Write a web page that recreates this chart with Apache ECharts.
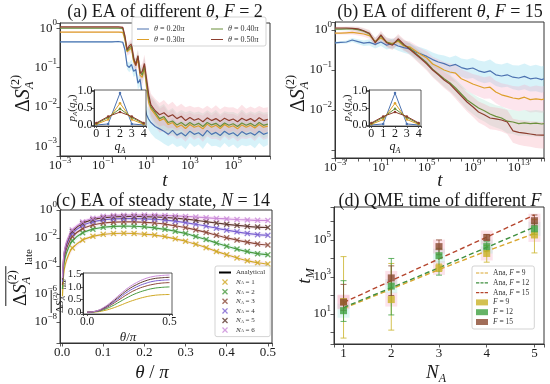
<!DOCTYPE html>
<html>
<head>
<meta charset="utf-8">
<script src="https://cdn.jsdelivr.net/npm/echarts@6.0.0/dist/echarts.min.js"></script>
<style>html,body{margin:0;padding:0;background:#fff;}#chart{width:550px;height:384px;}</style>
</head>
<body>
<div id="chart"></div>
<script>
const F = "'Liberation Serif','DejaVu Serif',serif";
const INK = '#1a1a1a';

// ===== (a) EA of different theta, F = 2  (x = log10 t, y = log10 dS) =====
const A_X = [-3,-2.5,-2,-1.5,-1,-0.6,-0.3,-0.1,0,0.1,0.2,0.3,0.4,0.5,0.6,0.7,0.8,0.9,1.0,1.1,1.2,1.4,1.6,1.8,2.0,2.2,2.4,2.6,2.8,3.0,3.2,3.4,3.6,3.8,4.0,4.2,4.4,4.6,4.8,5.0,5.2,5.4,5.6,5.8,6.0,6.2,6.4,6.6];
const A_020 = [-0.35,-0.35,-0.35,-0.35,-0.35,-0.35,-0.34,-0.36,-0.55,-0.95,-1.0,-0.92,-1.1,-1.05,-1.4,-1.3,-1.7,-1.95,-2.2,-2.32,-2.4,-2.5,-2.56,-2.62,-2.7,-2.6,-2.72,-2.66,-2.74,-2.62,-2.7,-2.66,-2.74,-2.6,-2.7,-2.65,-2.73,-2.62,-2.7,-2.66,-2.74,-2.63,-2.7,-2.66,-2.72,-2.62,-2.7,-2.66];
const A_030 = [-0.1,-0.1,-0.1,-0.1,-0.1,-0.1,-0.1,-0.11,-0.3,-0.6,-0.55,-0.5,-0.85,-0.95,-0.8,-1.2,-1.25,-1.0,-1.5,-1.9,-2.05,-2.2,-2.35,-2.3,-2.45,-2.4,-2.52,-2.46,-2.55,-2.45,-2.52,-2.48,-2.56,-2.44,-2.52,-2.47,-2.55,-2.45,-2.52,-2.48,-2.56,-2.46,-2.52,-2.47,-2.54,-2.45,-2.52,-2.49];
const A_040 = [0,0,0,0,0,0,0,-0.01,-0.25,-0.58,-0.5,-0.45,-0.8,-0.9,-0.72,-1.1,-1.2,-0.95,-1.4,-1.8,-2.0,-2.15,-2.3,-2.25,-2.4,-2.36,-2.46,-2.4,-2.48,-2.4,-2.47,-2.42,-2.5,-2.4,-2.46,-2.42,-2.5,-2.41,-2.47,-2.43,-2.5,-2.41,-2.47,-2.42,-2.49,-2.4,-2.47,-2.44];
const A_050 = [0.03,0.03,0.03,0.03,0.03,0.03,0.03,0.02,-0.2,-0.55,-0.45,-0.4,-0.75,-0.95,-0.7,-1.15,-1.1,-0.9,-1.3,-1.7,-1.95,-2.1,-2.2,-2.15,-2.25,-2.2,-2.3,-2.24,-2.35,-2.27,-2.34,-2.3,-2.38,-2.28,-2.35,-2.3,-2.37,-2.29,-2.35,-2.31,-2.38,-2.29,-2.35,-2.3,-2.37,-2.28,-2.35,-2.32];
const A_SPR = [0.02,0.02,0.02,0.02,0.02,0.02,0.02,0.03,0.08,0.1,0.12,0.12,0.14,0.15,0.16,0.18,0.2,0.22,0.24,0.26,0.28,0.3,0.3,0.32,0.3,0.33,0.3,0.32,0.34,0.3,0.32,0.3,0.33,0.31,0.3,0.34,0.31,0.3,0.33,0.3,0.32,0.34,0.3,0.31,0.33,0.3,0.32,0.31];

// ===== (b) EA of different theta, F = 15 =====
const B_X = [-3,-2.5,-2,-1.5,-1,-0.5,0,0.5,1,1.5,2,2.5,3,3.5,4,4.5,5,5.5,6,6.5,7,7.5,8,8.5,9,9.5,10,10.5,11,11.5,12,12.5,13,13.5,14,14.5,15,15.2];
const B_020 = [-0.32,-0.31,-0.3,-0.25,-0.29,-0.33,-0.31,-0.36,-0.3,-0.38,-0.33,-0.4,-0.44,-0.47,-0.55,-0.6,-0.66,-0.74,-0.8,-0.84,-0.9,-0.86,-0.94,-0.98,-0.95,-1.02,-1.06,-1.02,-1.12,-1.15,-1.12,-1.18,-1.2,-1.16,-1.22,-1.2,-1.24,-1.22];
const B_030 = [-0.08,-0.08,-0.07,-0.06,-0.08,-0.1,-0.14,-0.28,-0.2,-0.3,-0.34,-0.28,-0.4,-0.42,-0.52,-0.62,-0.7,-0.85,-0.92,-1.0,-1.05,-1.08,-1.22,-1.28,-1.35,-1.4,-1.45,-1.43,-1.55,-1.62,-1.66,-1.7,-1.72,-1.68,-1.74,-1.72,-1.74,-1.73];
const B_040 = [0.02,0.02,0.03,0.03,0.01,-0.03,-0.1,-0.3,-0.15,-0.3,-0.36,-0.25,-0.38,-0.45,-0.58,-0.7,-0.82,-0.98,-1.1,-1.22,-1.32,-1.45,-1.6,-1.75,-1.85,-1.95,-2.02,-2.1,-2.16,-2.2,-2.28,-2.3,-2.34,-2.32,-2.34,-2.33,-2.35,-2.34];
const B_050 = [0.05,0.05,0.05,0.04,0.03,-0.02,-0.08,-0.32,-0.12,-0.32,-0.38,-0.22,-0.36,-0.48,-0.6,-0.72,-0.85,-1.0,-1.12,-1.25,-1.35,-1.5,-1.65,-1.8,-1.92,-2.05,-2.12,-2.2,-2.22,-2.25,-2.3,-2.52,-2.56,-2.58,-2.6,-2.62,-2.63,-2.63];
const B_SPR = [0.03,0.03,0.04,0.05,0.06,0.07,0.08,0.1,0.1,0.11,0.12,0.12,0.13,0.14,0.15,0.16,0.17,0.18,0.19,0.2,0.21,0.22,0.23,0.24,0.25,0.26,0.27,0.28,0.28,0.29,0.3,0.3,0.31,0.32,0.32,0.33,0.33,0.33];

// ===== insets of (a),(b): p_A(q_A) =====
const P_Q = [0,1,2,3,4];
const P_020 = [0.0,0.03,0.94,0.03,0.0];
const P_030 = [0.02,0.16,0.64,0.16,0.02];
const P_040 = [0.04,0.22,0.48,0.22,0.04];
const P_050 = [0.06,0.25,0.38,0.25,0.06];

// ===== (c) EA of steady state, N = 14 (x = theta/pi, y = log10) =====
const C_T = [0.001,0.004,0.008,0.015,0.025,0.05,0.075,0.1,0.125,0.15,0.175,0.2,0.225,0.25,0.275,0.3,0.325,0.35,0.375,0.4,0.425,0.45,0.475,0.5];
const C_NA1 = [-6.16,-4.56,-3.86,-3.26,-2.71,-2.14,-1.88,-1.74,-1.68,-1.66,-1.68,-1.73,-1.79,-1.9,-2.06,-2.23,-2.45,-2.69,-2.96,-3.2,-3.42,-3.62,-3.77,-3.86];
const C_NA2 = [-5.65,-4.05,-3.35,-2.75,-2.2,-1.63,-1.37,-1.23,-1.17,-1.15,-1.16,-1.2,-1.27,-1.38,-1.52,-1.68,-1.89,-2.11,-2.36,-2.59,-2.79,-2.97,-3.12,-3.2];
const C_NA3 = [-5.35,-3.75,-3.05,-2.45,-1.9,-1.33,-1.07,-0.93,-0.87,-0.85,-0.85,-0.88,-0.93,-1.01,-1.13,-1.26,-1.42,-1.6,-1.8,-1.99,-2.15,-2.3,-2.43,-2.5];
const C_NA4 = [-5.12,-3.52,-2.82,-2.22,-1.67,-1.1,-0.84,-0.7,-0.64,-0.62,-0.62,-0.63,-0.66,-0.72,-0.8,-0.9,-1.02,-1.15,-1.3,-1.44,-1.56,-1.67,-1.76,-1.8];
const C_NA5 = [-4.97,-3.37,-2.67,-2.07,-1.52,-0.95,-0.69,-0.55,-0.49,-0.47,-0.46,-0.47,-0.49,-0.53,-0.58,-0.65,-0.74,-0.83,-0.93,-1.02,-1.1,-1.17,-1.22,-1.25];
const C_NA6 = [-4.87,-3.27,-2.57,-1.97,-1.42,-0.85,-0.59,-0.45,-0.39,-0.37,-0.36,-0.36,-0.37,-0.39,-0.42,-0.46,-0.5,-0.55,-0.6,-0.64,-0.68,-0.71,-0.74,-0.75];
const C_SPR = [0.3,0.3,0.3,0.25,0.2,0.15,0.12,0.12,0.12,0.12,0.12,0.12,0.12,0.12,0.12,0.13,0.13,0.14,0.14,0.15,0.15,0.15,0.15,0.15];
const CI_T = [0,0.05,0.1,0.15,0.2,0.25,0.3,0.35,0.4,0.45,0.5];
const CI_1 = [0,0.01,0.06,0.15,0.27,0.4,0.51,0.6,0.66,0.69,0.7];
const CI_2 = [0,0.02,0.1,0.24,0.42,0.6,0.75,0.86,0.94,0.98,1.0];
const CI_3 = [0,0.03,0.13,0.31,0.52,0.73,0.9,1.02,1.1,1.15,1.17];
const CI_4 = [0,0.03,0.15,0.35,0.59,0.82,1.0,1.13,1.22,1.26,1.28];
const CI_5 = [0,0.04,0.17,0.39,0.65,0.9,1.09,1.23,1.32,1.36,1.38];
const CI_6 = [0,0.04,0.19,0.43,0.71,0.97,1.17,1.32,1.41,1.45,1.47];

// ===== (d) QME time of different F (y = log10 t_M) =====
const D_NA = [1,2,3,4,5];
const D_ANA9 = [1.3,2.35,3.4,4.4,5.35];
const D_ANA12 = [1.35,2.42,3.5,4.6,5.7];
const D_ANA15 = [1.62,2.8,3.98,5.15,6.35];
const D_F9 = [1.67,1.78,3.49,4.27,5.27];
const D_F12 = [1.18,2.51,4.15,4.64,5.6];
const D_F15 = [1.64,2.95,4.64,5.13,6.04];
const D_F9_LO = [-0.3,0.13,3.3,3.8,4.3];
const D_F9_HI = [4.1,3.73,3.7,4.7,6.1];
const D_F12_LO = [0.6,0.95,3.1,4.4,5.3];
const D_F12_HI = [2.8,4.0,4.55,4.9,5.9];
const D_F15_LO = [1.2,2.0,4.2,5.0,5.8];
const D_F15_HI = [2.6,3.6,5.0,5.3,6.35];

// ===== tick labels =====
const A_XTICKS = [-3,-1,1,3,5];
const A_YTICKS = [-3,-2,-1,0];
const B_XTICKS = [-3,1,5,9,13];
const B_YTICKS = [-2,-1,0];
const C_XTICKS = [0,0.1,0.2,0.3,0.4,0.5];
const C_YTICKS = [-8,-6,-4,-2,0];
const D_XTICKS = [1,2,3,4,5];
const D_YTICKS = [1,3,5];
const P_XTICKS = [0,1,2,3,4];
const P_YTICKS = [0,0.5,1];
const CI_XTICKS = [0,0.5];
const CI_YTICKS = [0,0.5,1,1.5];

// ===== names =====
const THETAS = ['0.20','0.30','0.40','0.50'];
const NAS = [1,2,3,4,5,6];
const FS = [9,12,15];
const TH_NAMES = THETAS.map(t => 'θ = ' + t + 'π');
const NA_NAMES = NAS.map(n => 'N_A = ' + n);
const ANA_NAMES = FS.map(f => 'Ana, F = ' + f);
const F_NAMES = FS.map(f => 'F = ' + f);
const RN = {'Analytical': '{n|Analytical}'};
TH_NAMES.forEach((nm,k) => RN[nm] = '{i|θ}{n| = ' + THETAS[k] + '}{i|π}');
NA_NAMES.forEach((nm,k) => RN[nm] = '{i|N}{s|A}{n| = ' + NAS[k] + '}');
ANA_NAMES.forEach((nm,k) => RN[nm] = '{n|Ana, }{i|F}{n| = ' + FS[k] + '}');
F_NAMES.forEach((nm,k) => RN[nm] = '{i|F}{n| = ' + FS[k] + '}');

// ===== styles =====
const TH_COL = ['#4c72b0','#dd9f2a','#6a8f3a','#8c3d2e'];
const TH_BAND = ['#6fd0e8','#f7a0c0','#9ee0c8','#f59aa8'];
const C_COL = ['#cfa823','#4a9a40','#8b4a3a','#7a60d0','#5e3a30','#c98ad8'];
const C_BAND = ['#f3c8e0','#a8e8d8','#f3c8d8','#d8c8f0','#f0c8d8','#f3c0f0'];
const D_ACOL = ['#d9a62e','#3f8f3f','#b5462e'];
const D_PCOL = ['#c9b227','#3fa040','#8a4a30'];
const D_HALO = ['#f6b0c8','#a8e8e0','#f6a8c0'];
const XPATH = 'path://M0,1.6L1.6,0L5,3.4L8.4,0L10,1.6L6.6,5L10,8.4L8.4,10L5,6.6L1.6,10L0,8.4L3.4,5Z';
const LINE_ICON = 'path://M0,0H0.01V0.01H0ZM0,4H20V6H0ZM19.99,9.99H20V10H19.99Z';
const THICK_ICON = 'path://M0,0H0.01V0.01H0ZM0,3.3H20V6.7H0ZM19.99,9.99H20V10H19.99Z';
const DASH_ICON = 'path://M0,0H0.01V0.01H0ZM0,4H5.5V6H0ZM7.5,4H12.5V6H7.5ZM14.5,4H20V6H14.5ZM19.99,9.99H20V10H19.99Z';

const zip = (X, Y) => X.map((x, i) => [x, Y[i]]);
const near = (v, list) => { const r = Math.round(v * 1000) / 1000; return list.some(t => Math.abs(t - r) < 1e-9) ? r : null; };
const logFmt = ticks => v => { const r = near(v, ticks); if (r === null) return ''; const e = Math.round(r); return '{b|10}{s|' + (e < 0 ? '\u2212' + (-e) : e) + '}'; };
const numFmt = (ticks, d) => v => { const r = near(v, ticks); return r === null ? '' : (Math.abs(r) < 1e-9 ? 0 : r).toFixed(d); };
const LOGRICH = fs => ({b:{fontFamily:F,fontSize:fs,color:INK,lineHeight:fs+7}, s:{fontFamily:F,fontSize:Math.round(fs*0.68),color:INK,verticalAlign:'top',lineHeight:Math.round(fs*0.7)}});

function axis(gi, min, max, step, fmt, o) {
  o = o || {};
  const fs = o.fs || 13;
  return {
    type:'value', gridIndex:gi, min:min, max:max, minInterval:step, maxInterval:step, z:o.z || 0,
    axisLine:{show:true, onZero:false, lineStyle:{color:'#333', width:1}},
    axisTick:{show:true, length:o.tl || 3.5, lineStyle:{color:'#333', width:0.8}},
    splitLine:{show:false},
    axisLabel:{formatter:fmt, fontFamily:F, fontSize:fs, color:INK, margin:(o.m == null ? 3 : o.m), rich:LOGRICH(fs), hideOverlap:false}
  };
}
function band(gi, X, Y, S, color, op, z) {
  return {type:'custom', xAxisIndex:gi, yAxisIndex:gi, silent:true, z:z || 1, clip:true,
    data:X.map((x, i) => [x, Y[i] - S[i], Y[i] + S[i]]), encode:{x:0, y:[1,2]},
    renderItem:(p, api) => {
      if (p.dataIndex !== 0) return null;
      const up = X.map((x, i) => api.coord([x, Y[i] + S[i]]));
      const dn = X.map((x, i) => api.coord([x, Y[i] - S[i]])).reverse();
      return {type:'polygon', shape:{points:up.concat(dn)}, style:{fill:color, opacity:op}};
    }};
}
function errBars(gi, X, LO, HI, color) {
  return {type:'custom', xAxisIndex:gi, yAxisIndex:gi, silent:true, z:3, clip:true,
    data:X.map((x, i) => [x, LO[i], HI[i]]), encode:{x:0, y:[1,2]},
    renderItem:(p, api) => {
      const a = api.coord([api.value(0), api.value(1)]), b = api.coord([api.value(0), api.value(2)]);
      const w = 3, st = {stroke:color, lineWidth:0.8};
      return {type:'group', children:[
        {type:'line', shape:{x1:a[0], y1:a[1], x2:b[0], y2:b[1]}, style:st},
        {type:'line', shape:{x1:a[0]-w, y1:a[1], x2:a[0]+w, y2:a[1]}, style:st},
        {type:'line', shape:{x1:b[0]-w, y1:b[1], x2:b[0]+w, y2:b[1]}, style:st}]};
    }};
}
const line = (gi, name, data, color, o) => Object.assign({type:'line', name:name, xAxisIndex:gi, yAxisIndex:gi, data:data, symbol:'none', showSymbol:false,
  lineStyle:{color:color, width:1.2}, itemStyle:{color:color}, z:2, animation:false}, o || {});

// ===== series =====
const series = [];
const A_SER = [A_020, A_030, A_040, A_050];
const B_SER = [B_020, B_030, B_040, B_050];
const P_SER = [P_020, P_030, P_040, P_050];
for (let k = 0; k < 4; k++) {
  series.push(band(0, A_X, A_SER[k], A_SPR, TH_BAND[k], 0.28));
  series.push(band(1, B_X, B_SER[k], B_SPR, TH_BAND[k], 0.28));
}
for (let k = 0; k < 4; k++) {
  series.push(line(0, TH_NAMES[k], zip(A_X, A_SER[k]), TH_COL[k]));
  series.push(line(1, 'b' + k, zip(B_X, B_SER[k]), TH_COL[k]));
  series.push(line(4, 'pa' + k, zip(P_Q, P_SER[k]), TH_COL[k], {symbol:'circle', showSymbol:true, symbolSize:2.5, lineStyle:{color:TH_COL[k], width:1}, z:7}));
  series.push(line(5, 'pb' + k, zip(P_Q, P_SER[k]), TH_COL[k], {symbol:'circle', showSymbol:true, symbolSize:2.5, lineStyle:{color:TH_COL[k], width:1}, z:7}));
}
const C_SER = [C_NA1, C_NA2, C_NA3, C_NA4, C_NA5, C_NA6];
const CI_SER = [CI_1, CI_2, CI_3, CI_4, CI_5, CI_6];
for (let k = 0; k < 6; k++) series.push(band(2, C_T, C_SER[k], C_SPR, C_BAND[k], 0.35));
series.push(line(2, 'Analytical', [], '#000', {lineStyle:{color:'#000', width:1.5}}));
for (let k = 0; k < 6; k++) {
  series.push(line(2, 'c' + k, zip(C_T, C_SER[k]), C_COL[k], {smooth:0.3}));
  series.push({type:'scatter', name:NA_NAMES[k], xAxisIndex:2, yAxisIndex:2, data:zip(C_T.slice(4), C_SER[k].slice(4)),
    symbol:XPATH, symbolSize:6, itemStyle:{color:C_COL[k]}, z:3, animation:false});
  series.push(line(6, 'ci' + k, zip(CI_T, CI_SER[k]), C_COL[k], {smooth:true, lineStyle:{color:C_COL[k], width:1}, z:7}));
}
const D_ANA = [D_ANA9, D_ANA12, D_ANA15];
const D_PT = [D_F9, D_F12, D_F15];
const D_LO = [D_F9_LO, D_F12_LO, D_F15_LO];
const D_HI = [D_F9_HI, D_F12_HI, D_F15_HI];
for (let k = 0; k < 3; k++) {
  series.push({type:'scatter', name:'halo' + k, xAxisIndex:3, yAxisIndex:3, data:zip(D_NA, D_PT[k]), symbol:'rect', symbolSize:[12, 14],
    itemStyle:{color:D_HALO[k], opacity:0.35}, z:1, silent:true, animation:false});
}
for (let k = 0; k < 3; k++) {
  series.push(line(3, ANA_NAMES[k], zip(D_NA, D_ANA[k]), D_ACOL[k], {lineStyle:{color:D_ACOL[k], width:1.4, type:[5,3]}}));
  series.push(errBars(3, D_NA, D_LO[k], D_HI[k], D_PCOL[k]));
  series.push({type:'scatter', name:F_NAMES[k], xAxisIndex:3, yAxisIndex:3, data:zip(D_NA, D_PT[k]), symbol:'rect', symbolSize:7,
    itemStyle:{color:D_PCOL[k]}, z:4, animation:false});
}

// ===== graphic text =====
const rt = size => ({n:{fontFamily:F, fontSize:size, fill:INK, lineHeight:size*1.25},
  i:{fontFamily:F, fontSize:size, fontStyle:'italic', fill:INK, lineHeight:size*1.25},
  s:{fontFamily:F, fontSize:Math.round(size*0.65), fontStyle:'italic', fill:INK, verticalAlign:'bottom', lineHeight:Math.round(size*0.65)}});
function T(x, y, text, size, o) {
  o = o || {};
  const al = o.align || 'center';
  return {type:'text', x:x, y:y, rotation:o.rot || 0, z:20, silent:true,
    style:{text:text, rich:rt(size), fontFamily:F, fontSize:size, fill:INK, align:al, verticalAlign:'middle', textAlign:al, textVerticalAlign:'middle'}};
}
function DS(x, y, size, late) {
  const s2 = Math.round(size * 0.62);
  const w = size * 1.15;
  const st = (t, fs, it) => ({text:t, fontFamily:F, fontSize:fs, fontStyle:it ? 'italic' : 'normal', fill:INK, align:'left', verticalAlign:'middle', textAlign:'left', textVerticalAlign:'middle'});
  const ch = [
    {type:'text', x:0, y:0, style:{text:'{n|Δ}{i|S}', rich:rt(size), align:'left', verticalAlign:'middle', textAlign:'left', textVerticalAlign:'middle'}},
    {type:'text', x:w, y:-size*0.42, style:st('(2)', s2, false)},
    {type:'text', x:w, y:size*0.3, style:st('A', s2, true)}
  ];
  if (late) {
    ch.push({type:'line', shape:{x1:0, y1:-size*0.8, x2:w + s2*1.5, y2:-size*0.8}, style:{stroke:INK, lineWidth:1}});
    ch.push({type:'text', x:w + s2*1.6, y:size*0.42, style:st('late', Math.round(s2*0.95), false)});
  }
  return {type:'group', x:x, y:y, rotation:Math.PI/2, z:20, silent:true, children:ch};
}
const ROT = Math.PI / 2;
const graphics = [
  {type:'rect', shape:{x:132, y:17, width:134, height:29, r:2}, style:{fill:'#fff', stroke:'#c8c8c8', lineWidth:0.8}, z:11, silent:true},
  T(165, 12, '{n|(a) EA of different }{i|θ}{n|, }{i|F}{n| = 2}', 18),
  T(440, 12, '{n|(b) EA of different }{i|θ}{n|, }{i|F}{n| = 15}', 18),
  T(163, 201, '{n|(c) EA of steady state, }{i|N}{n| = 14}', 18),
  T(440, 201, '{n|(d) QME time of different }{i|F}', 18),
  T(165, 181, '{i|t}', 19),
  T(440, 181, '{i|t}', 19),
  T(152, 373, '{i|θ}{n| / }{i|π}', 19),
  T(436, 373, '{i|N}{s|A}', 19),
  T(305, 276, '{i|t}{s|M}', 19, {rot:ROT}),
  DS(24, 112, 20, false),
  DS(299, 112, 20, false),
  DS(21, 306, 19, true),
  DS(60, 313, 11, true),
  T(120, 147, '{i|q}{s|A}', 12),
  T(395, 147, '{i|q}{s|A}', 12),
  T(72, 108, '{i|p}{s|A}{n|(}{i|q}{s|A}{n|)}', 11, {rot:ROT}),
  T(347, 108, '{i|p}{s|A}{n|(}{i|q}{s|A}{n|)}', 11, {rot:ROT}),
  T(128, 338, '{i|θ}{n|/}{i|π}', 13)
];

const legRich = fs => ({n:{fontFamily:F, fontSize:fs, color:'#333'}, i:{fontFamily:F, fontSize:fs, fontStyle:'italic', color:'#333'},
  s:{fontFamily:F, fontSize:Math.round(fs*0.7), fontStyle:'italic', color:'#333', verticalAlign:'bottom'}});
const legBase = (data, left, top, fs, gap, box) => Object.assign({data:data, left:left, top:top, orient:'vertical', itemGap:gap, itemWidth:12, itemHeight:6,
  formatter:n => RN[n], textStyle:{fontFamily:F, fontSize:fs, color:'#333', rich:legRich(fs)}, z:12, selectedMode:false, padding:3},
  box ? {backgroundColor:'#fff', borderColor:'#c8c8c8', borderWidth:0.8, borderRadius:2, padding:[3,5,3,4]} : {});
const withIcon = (names, icon) => names.map(n => ({name:n, icon:icon}));

const option = {
  animation:false,
  backgroundColor:'#fff',
  textStyle:{fontFamily:F},
  grid:[
    {left:60, top:23, width:210, height:133, show:true, borderColor:'#333', borderWidth:1, backgroundColor:'transparent'},
    {left:335, top:22, width:209, height:136, show:true, borderColor:'#333', borderWidth:1, backgroundColor:'transparent'},
    {left:60, top:210, width:212, height:133, show:true, borderColor:'#333', borderWidth:1, backgroundColor:'transparent'},
    {left:334, top:207, width:210, height:137, show:true, borderColor:'#333', borderWidth:1, backgroundColor:'transparent'},
    {left:94, top:90, width:52, height:36, show:true, borderColor:'#333', borderWidth:0.8, backgroundColor:'#fff', z:5},
    {left:369, top:90, width:52, height:36, show:true, borderColor:'#333', borderWidth:0.8, backgroundColor:'#fff', z:5},
    {left:83, top:273, width:89, height:41, show:true, borderColor:'#333', borderWidth:0.8, backgroundColor:'#fff', z:5}
  ],
  xAxis:[
    axis(0, -3, 6.7, 1, logFmt(A_XTICKS), {m:0}),
    axis(1, -3, 15.2, 1, logFmt(B_XTICKS), {m:0}),
    axis(2, -0.005, 0.51, 0.1, numFmt(C_XTICKS, 1), {m:3}),
    axis(3, 0.8, 5.2, 1, numFmt(D_XTICKS, 0), {m:3}),
    axis(4, -0.2, 4.2, 1, numFmt(P_XTICKS, 0), {fs:12, m:1.5, tl:2, z:6}),
    axis(5, -0.2, 4.2, 1, numFmt(P_XTICKS, 0), {fs:12, m:1.5, tl:2, z:6}),
    axis(6, -0.025, 0.515, 0.5, numFmt(CI_XTICKS, 1), {fs:11.5, m:1.5, tl:2, z:6})
  ],
  yAxis:[
    axis(0, -3.25, 0.13, 1, logFmt(A_YTICKS)),
    axis(1, -3.2, 0.2, 1, logFmt(B_YTICKS)),
    axis(2, -9.5, 0, 2, logFmt(C_YTICKS)),
    axis(3, -0.62, 6.78, 1, logFmt(D_YTICKS)),
    axis(4, -0.03, 1.03, 0.5, numFmt(P_YTICKS, 1), {fs:12, m:1.5, tl:2, z:6}),
    axis(5, -0.03, 1.03, 0.5, numFmt(P_YTICKS, 1), {fs:12, m:1.5, tl:2, z:6}),
    axis(6, -0.07, 1.55, 0.5, numFmt(CI_YTICKS, 1), {fs:11, m:1.5, tl:2, z:6})
  ],
  legend:[
    legBase(withIcon([TH_NAMES[0], TH_NAMES[1]], LINE_ICON), 134, 22, 8, 2.5, false),
    legBase(withIcon([TH_NAMES[2], TH_NAMES[3]], LINE_ICON), 208, 22, 8, 2.5, false),
    legBase(withIcon(['Analytical'], THICK_ICON).concat(NA_NAMES), 215, 266, 7, 2.6, true),
    legBase(withIcon(ANA_NAMES, DASH_ICON).concat(F_NAMES), 472, 266, 7.5, 1.8, true)
  ],
  graphic:{elements:graphics},
  series:series
};
const chart = echarts.init(document.getElementById('chart'), null, {renderer:'canvas'});
chart.setOption(option);
</script>
</body>
</html>
